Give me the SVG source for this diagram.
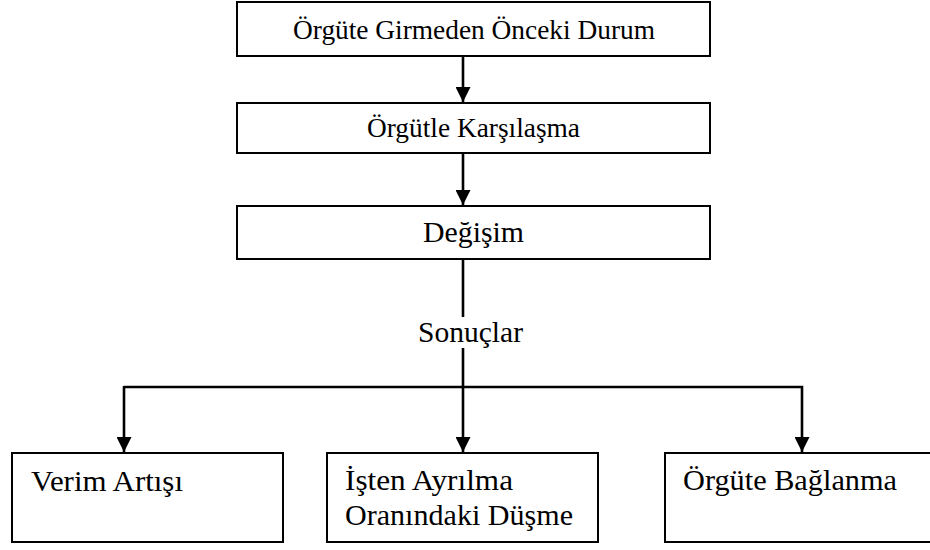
<svg xmlns="http://www.w3.org/2000/svg" width="930" height="550" viewBox="0 0 930 550">
  <style>
    .box { fill: #ffffff; stroke: #000000; stroke-width: 2; }
    .wire { fill: none; stroke: #000000; stroke-width: 2.6; }
    text { font-family: "Liberation Serif", "DejaVu Serif", "Noto Serif", serif; fill: #000000; }
    .t27 { font-size: 27.3px; }
    .t30 { font-size: 30px; }
    .mid { text-anchor: middle; }
  </style>
  <defs>
    <marker id="head" viewBox="0 0 15 15" refX="15" refY="7.5" markerWidth="15" markerHeight="15" markerUnits="userSpaceOnUse" orient="auto">
      <path d="M0,0 L15,7.5 L0,15 Z" fill="#000000"/>
    </marker>
  </defs>
  <rect width="930" height="550" fill="#ffffff"/>

  <g id="connectors">
    <line class="wire" x1="463" y1="56" x2="463" y2="102" marker-end="url(#head)"/>
    <line class="wire" x1="463" y1="153" x2="463" y2="205" marker-end="url(#head)"/>
    <line class="wire" x1="463" y1="259" x2="463" y2="317"/>
    <line class="wire" x1="463" y1="348" x2="463" y2="452" marker-end="url(#head)"/>
    <polyline class="wire" points="124,387 802,387 802,452" marker-end="url(#head)"/>
    <line class="wire" x1="124" y1="386" x2="124" y2="452" marker-end="url(#head)"/>
  </g>

  <g id="n-oncesi">
    <rect class="box" x="237" y="2" width="473" height="54"/>
    <text class="t27" x="293" y="39" textLength="362" lengthAdjust="spacingAndGlyphs">Örgüte Girmeden Önceki Durum</text>
  </g>
  <g id="n-karsilasma">
    <rect class="box" x="237" y="103" width="473" height="50"/>
    <text class="t27" x="367" y="137" textLength="213" lengthAdjust="spacingAndGlyphs">Örgütle Karşılaşma</text>
  </g>
  <g id="n-degisim">
    <rect class="box" x="237" y="206" width="473" height="53"/>
    <text class="t30" x="423" y="242" textLength="101" lengthAdjust="spacingAndGlyphs">Değişim</text>
  </g>
  <g id="n-sonuclar">
    <text class="t30" x="418" y="342" textLength="105" lengthAdjust="spacingAndGlyphs">Sonuçlar</text>
  </g>
  <g id="n-verim">
    <rect class="box" x="12" y="453" width="271" height="89"/>
    <text class="t30" x="31" y="491" textLength="152" lengthAdjust="spacingAndGlyphs">Verim Artışı</text>
  </g>
  <g id="n-ayrilma">
    <rect class="box" x="327" y="453" width="271" height="89"/>
    <text class="t30" x="345" y="490" textLength="168" lengthAdjust="spacingAndGlyphs">İşten Ayrılma</text>
    <text class="t30" x="345" y="525" textLength="228" lengthAdjust="spacingAndGlyphs">Oranındaki Düşme</text>
  </g>
  <g id="n-baglanma">
    <rect class="box" x="665" y="453" width="275" height="89"/>
    <text class="t30" x="683" y="490" textLength="214" lengthAdjust="spacingAndGlyphs">Örgüte Bağlanma</text>
  </g>
</svg>
